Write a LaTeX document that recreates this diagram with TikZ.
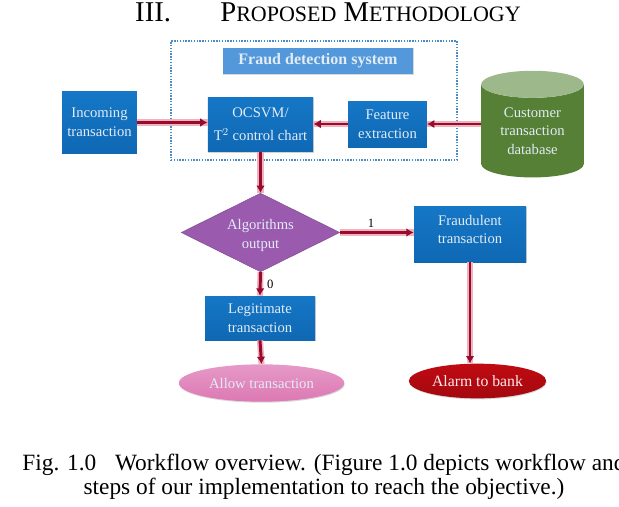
\documentclass[tikz,border=0pt]{standalone}
\usepackage{xcolor}
\usepackage{fontspec}
\setmainfont{Liberation Serif}
\usetikzlibrary{arrows.meta,positioning,calc,shapes.geometric,shadows}

\definecolor{boxblue}{HTML}{0F68B4}
\definecolor{boxbluetop}{HTML}{1577C6}
\definecolor{titleblue}{HTML}{5498DC}
\definecolor{framedot}{HTML}{4C8CC6}
\definecolor{flowred}{HTML}{9A0A2E}
\definecolor{flowglow}{HTML}{EDB4BE}
\definecolor{cylgreen}{HTML}{558035}
\definecolor{cyltop}{HTML}{9DB88A}
\definecolor{diapurple}{HTML}{9A5AAE}
\definecolor{allowpink}{HTML}{DD78B4}
\definecolor{alarmred}{HTML}{C00A12}
\definecolor{paletext}{HTML}{E2ECF5}

\tikzset{
  procbox/.style={rectangle,top color=boxbluetop,bottom color=boxblue,text=paletext,
    align=center,inner sep=0pt,font=\fontsize{11}{14}\selectfont,
    drop shadow={shadow xshift=0.4pt,shadow yshift=-0.8pt,fill=black!35}},
  flow/.style={draw=flowred,line width=2.2pt,-{Latex[length=5.5pt,width=6.5pt]},
    preaction={draw=flowglow,line width=4.6pt,-}},
  flowlabel/.style={font=\fontsize{9.5}{10}\selectfont,text=black,inner sep=1pt},
}

\begin{document}
\begin{tikzpicture}[x=0.75pt,y=-0.75pt]
\useasboundingbox (0,0) rectangle (619,507);
\node[font=\fontsize{21.5}{24}\selectfont] (heading) at (328,12) {III.\hspace{37pt}P{\fontsize{16.5}{24}\selectfont ROPOSED} M{\fontsize{16.5}{24}\selectfont ETHODOLOGY}};

\node[draw=framedot,densely dotted,line width=1.1pt,minimum width=214.5pt,minimum height=89pt,inner sep=0pt] (frame) at (314,100.5) {};
\node[rectangle,fill=titleblue,text=paletext,minimum width=143pt,minimum height=20pt,inner sep=0pt,font=\bfseries\fontsize{12}{14}\selectfont,drop shadow={shadow xshift=0.4pt,shadow yshift=-0.6pt,fill=black!30}] (title) at (318,61) {Fraud detection system};

\node[procbox,minimum width=56pt,minimum height=46pt] (incoming) at (99.5,122.5) {Incoming\\transaction};
\node[procbox,minimum width=79pt,minimum height=41pt,font=\fontsize{11}{17}\selectfont] (ocsvm) at (260.5,124.5) {OCSVM/\\T$^2$ control chart};
\node[procbox,minimum width=59pt,minimum height=34.5pt] (feature) at (387.5,124) {Feature\\extraction};
\node[cylinder,shape border rotate=90,aspect=0.42,minimum width=77pt,minimum height=80pt,inner sep=0pt,
  cylinder uses custom fill,cylinder body fill=cylgreen,cylinder end fill=cyltop,text=paletext,align=center,
  font=\fontsize{11}{14}\selectfont] (customer) at (532.5,131) {Customer\\transaction\\database};

\node[diamond,fill=diapurple,draw=diapurple!80!black,line width=0.3pt,aspect=2,minimum width=119pt,minimum height=59pt,inner sep=0pt,text=paletext,align=center,
  font=\fontsize{11}{14}\selectfont] (algo) at (260.5,232.5) {\rule{0pt}{12.5pt}Algorithms\\output};
\node[procbox,minimum width=84pt,minimum height=42pt] (fraud) at (470,234) {Fraudulent\\transaction\rule[-7pt]{0pt}{0pt}};
\node[procbox,minimum width=82.5pt,minimum height=33pt] (legit) at (260,318) {Legitimate\\transaction};
\node[ellipse,top color=allowpink!75!white,bottom color=allowpink,minimum width=124pt,minimum height=28pt,inner sep=0pt,text=paletext,
  font=\fontsize{11}{12}\selectfont,drop shadow={shadow xshift=0.4pt,shadow yshift=-0.8pt,fill=black!30}] (allow) at (261.5,383) {Allow transaction};
\node[ellipse,top color=alarmred,bottom color=alarmred!85!black,minimum width=103pt,minimum height=26pt,inner sep=0pt,text=white!92!red,
  font=\fontsize{11.8}{12}\selectfont,drop shadow={shadow xshift=0.4pt,shadow yshift=-0.8pt,fill=black!30}] (alarm) at (477.5,381) {Alarm to bank};

\draw[flow] (incoming.east) -- (incoming.east -| ocsvm.west);
\draw[flow] (feature.west) -- (feature.west -| ocsvm.east);
\draw[flow] (customer.west |- feature.east) -- (feature.east);
\draw[flow] (ocsvm.south) -- (algo.north);
\draw[flow] (algo.east) -- (algo.east -| fraud.west) node[flowlabel,above,pos=0.42,yshift=1.5pt] (one) {1};
\draw[flow] (algo.south) -- (legit.north) node[flowlabel,right,midway,xshift=3pt] (zero) {0};
\draw[flow] (legit.south) -- (allow.north);
\draw[flow] (fraud.south) -- (fraud.south |- alarm.north);

\node[font=\fontsize{17.5}{18}\selectfont,align=center] (caption) at (324,477) {Fig. 1.0\hspace{14pt}Workflow overview. (Figure 1.0 depicts workflow and\\steps of our implementation to reach the objective.)};
\end{tikzpicture}
\end{document}
